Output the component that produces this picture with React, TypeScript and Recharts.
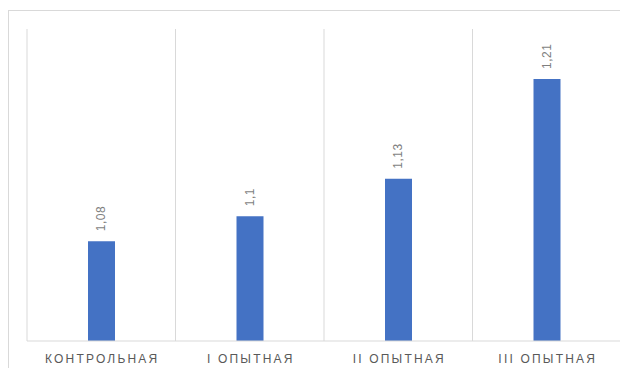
import React from 'react';
import { BarChart, Bar, XAxis, YAxis, CartesianGrid, LabelList } from 'recharts';

// Groups, their measured values and the value labels as printed
const groups = ['КОНТРОЛЬНАЯ', 'I ОПЫТНАЯ', 'II ОПЫТНАЯ', 'III ОПЫТНАЯ'];
const values = [1.08, 1.1, 1.13, 1.21];
const valueLabels = ['1,08', '1,1', '1,13', '1,21'];

// Group boundaries used for the vertical separator lines
const boundaryTicks = [0, 1, 2, 3, 4];
const valueDomain: [number, number] = [1, 1.25];

const data = groups.map((group, i) => ({
  group,
  value: values[i],
  label: valueLabels[i],
  slot: i + 0.5,
}));

const BORDER = '#d9d9d9';

const ValueLabel = (props: any) => {
  const { x, y, width, value } = props;
  const cx = Number(x) + Number(width) / 2 + 4;
  const by = Number(y) - 10;
  return (
    <text
      x={cx}
      y={by}
      transform={`rotate(-90 ${cx} ${by})`}
      textAnchor="start"
      fontSize={12}
      letterSpacing={0.5}
      fontFamily="'Liberation Sans', Arial, sans-serif"
      fill="#7f7f7f"
    >
      {value}
    </text>
  );
};

const GroupTick = (props: any) => {
  const { x, y, payload } = props;
  return (
    <text
      x={Number(x) + 1}
      y={Number(y)}
      dy={22}
      textAnchor="middle"
      fontSize={12}
      letterSpacing={2.2}
      fontFamily="'Liberation Sans', Arial, sans-serif"
      fill="#595959"
    >
      {payload.value}
    </text>
  );
};

export default function App() {
  return (
    <div style={{ position: 'relative', width: 620, height: 360 }}>
      <div
        style={{
          position: 'absolute',
          left: 0,
          top: 2,
          right: 0,
          bottom: 0,
          borderTop: `1px solid ${BORDER}`,
          borderLeft: `1px solid ${BORDER}`,
        }}
      />
      <BarChart
        width={620}
        height={360}
        data={data}
        margin={{ top: 21, right: 7, left: 19, bottom: 0 }}
        style={{ position: 'absolute', left: 0, top: 0 }}
      >
        <CartesianGrid xAxisId="edges" vertical horizontal={false} stroke={BORDER} strokeWidth={1} />
        <XAxis
          dataKey="group"
          axisLine={{ stroke: BORDER }}
          tickLine={false}
          tickSize={0}
          tickMargin={0}
          height={27}
          interval={0}
          tick={<GroupTick />}
        />
        <XAxis
          xAxisId="edges"
          dataKey="slot"
          type="number"
          domain={[0, 4]}
          ticks={boundaryTicks}
          allowDataOverflow
          hide
        />
        <YAxis hide domain={valueDomain} allowDataOverflow />
        <Bar dataKey="value" fill="#4472C4" barSize={27} isAnimationActive={false}>
          <LabelList dataKey="label" content={<ValueLabel />} />
        </Bar>
      </BarChart>
    </div>
  );
}
